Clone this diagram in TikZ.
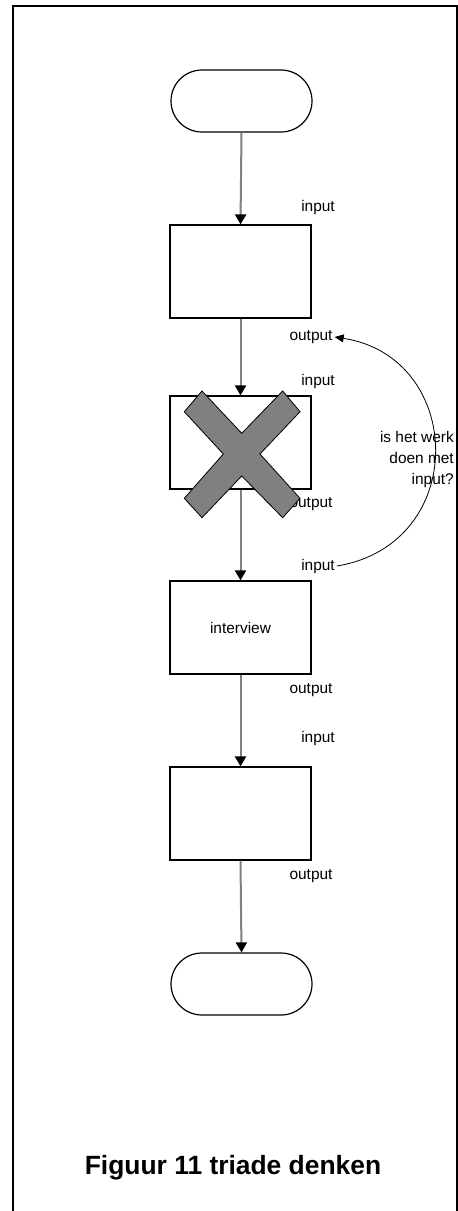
\documentclass[tikz,border=0pt]{standalone}
\usepackage{fontspec}
\setmainfont{Liberation Sans}
\usetikzlibrary{arrows.meta}
\begin{document}
\begin{tikzpicture}[x=1bp,y=-1bp,
  proc/.style={draw=black, line width=1.2bp, minimum width=141bp, minimum height=93bp,
    inner sep=0pt, font=\fontsize{15.5}{18}\selectfont},
  term/.style={draw=black, line width=1.2bp, rounded corners=31bp,
    minimum width=141bp, minimum height=62bp, inner sep=0pt},
  lbl/.style={inner sep=2bp, font=\fontsize{15.5}{18}\selectfont},
  flow/.style={draw=gray, line width=2bp,
    -{Triangle[length=10bp,width=11bp,color=black]}},
  loop/.style={draw=black, line width=0.8bp,
    -{Triangle[length=9bp,width=8bp,color=black]}},
  crossmark/.style={fill=gray, draw=black, line width=0.8bp}
]
\useasboundingbox (0,0) rectangle (458,1211);

% page frame (open at the bottom)
\draw[line width=2bp] (13,1215) -- (13,6) -- (457,6) -- (457,1215);

% flow chart blocks
\node[term] (t1) at (241.5,101) {};
\node[proc] (b1) at (240.5,271.5) {};
\node[proc] (b2) at (240.5,442.5) {};
\node[proc] (b3) at (240.5,627.5) {interview};
\node[proc] (b4) at (240.5,813.5) {};
\node[term] (t2) at (241.5,984) {};

% input / output labels
\node[lbl] (in1)  at (318,208) {input};
\node[lbl] (out1) at (311,337) {output};
\node[lbl] (in2)  at (318,381) {input};
\node[lbl] (out2) at (311,504) {output};
\node[lbl] (in3)  at (318,566) {input};
\node[lbl] (out3) at (311,690) {output};
\node[lbl] (in4)  at (318,738) {input};
\node[lbl] (out4) at (311,876) {output};

% connectors
\draw[flow] (t1.south) -- (b1.north);
\draw[flow] (b1.south) -- (b2.north);
\draw[flow] (b2.south) -- (b3.north);
\draw[flow] (b3.south) -- (b4.north);
\draw[flow] (b4.south) -- (t2.north);

% feedback loop with its question
\draw[loop] (in3.east) .. controls (470,544) and (465,357) .. (out1.east);
\begin{scope}
  \clip (14,7) rectangle (456,1211);
  \node[inner sep=0pt, align=right, anchor=east, font=\fontsize{15.5}{21.5}\selectfont]
    (q) at (454,459.5) {is het werk\\doen met\\input?};
\end{scope}

% cross over the second block
\draw[crossmark] (184.3,411.7) -- (202,391) -- (241.7,433.3) -- (282.7,391)
  -- (300,411.7) -- (260,454) -- (300,498.3) -- (282.7,517.7) -- (241.7,476)
  -- (202,517.7) -- (184.3,498.3) -- (223.3,454) -- cycle;

% caption
\node[anchor=base, inner sep=0pt, font=\fontsize{26.5}{30}\selectfont\bfseries]
  (cap) at (233,1174) {Figuur 11 triade denken};
\end{tikzpicture}
\end{document}
